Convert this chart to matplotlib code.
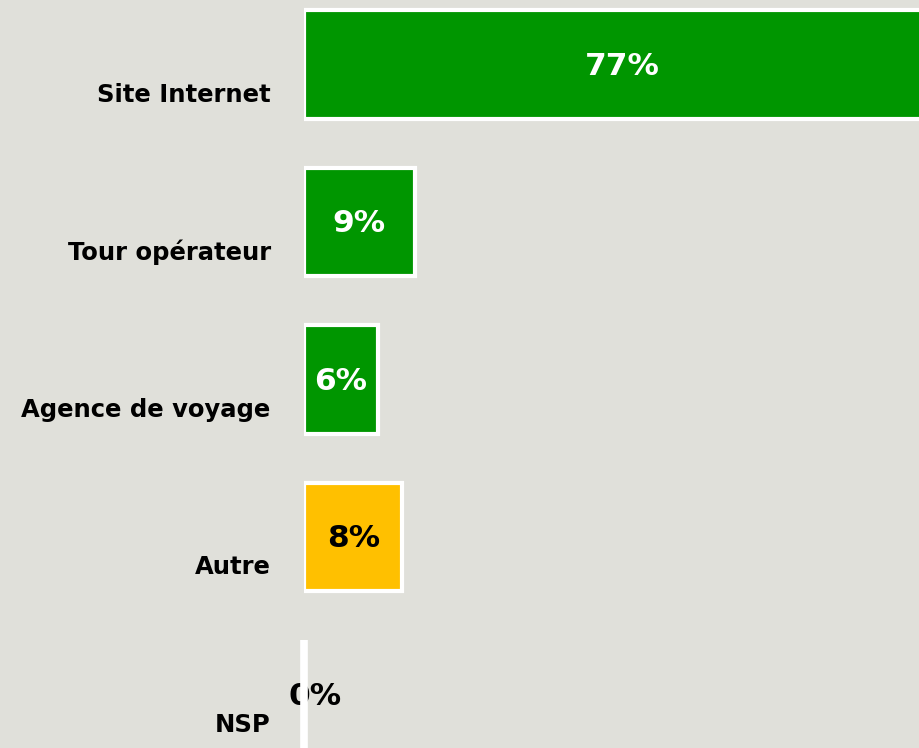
import matplotlib.pyplot as plt

categories = ['Site Internet', 'Tour opérateur', 'Agence de voyage', 'Autre', 'NSP']
values = [77, 9, 6, 8, 0]
bar_colors = ['#009600', '#009600', '#009600', '#FFC000', '#009600']
text_colors = ['white', 'white', 'white', 'black', 'black']

bg = '#E0E0DA'
xmax = 50

fig = plt.figure(figsize=(9.19, 7.48), dpi=100, facecolor=bg)
ax = fig.add_axes([304 / 919, 0, 1 - 304 / 919, 1], facecolor=bg)

pos = range(len(categories))
bars = ax.barh(pos, values, height=0.69, color=bar_colors, edgecolor='white',
               linewidth=3)
# la barre à 0 % n'apparaît que comme un trait blanc, par-dessus le texte
bars[-1].set_linewidth(5.5)
bars[-1].set_clip_on(False)
bars[-1].set_zorder(4)

for i, (v, tc) in enumerate(zip(values, text_colors)):
    if v >= xmax:
        x = xmax / 2 + 0.85
    elif v == 0:
        x = 0.9
    else:
        x = v / 2
    ax.text(x, i + 0.01, f'{v}%', ha='center', va='center', color=tc,
            fontsize=22.5, fontweight='bold', family='DejaVu Sans', zorder=3)

ax.set_xlim(0, xmax)
ax.set_ylim(4.34, -0.41)
ax.set_yticks([p + 0.175 for p in pos])
ax.set_yticklabels(categories, fontsize=17.5, fontweight='bold')
ax.tick_params(axis='y', length=0, pad=24)
ax.set_xticks([])
for s in ax.spines.values():
    s.set_visible(False)

fig.savefig('out.png', dpi=100, facecolor=bg)
